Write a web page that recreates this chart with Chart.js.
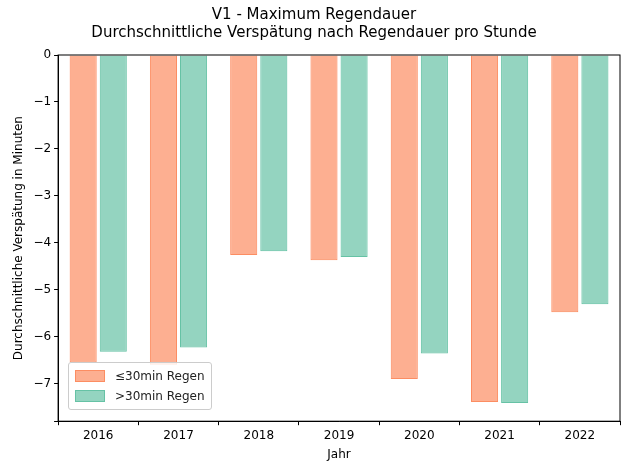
<!DOCTYPE html>
<html>
<head>
<meta charset="utf-8">
<script src="https://cdn.jsdelivr.net/npm/chart.js@4"></script>
<style>
  body { margin: 0; background: #fff; font-family: "DejaVu Sans", sans-serif; }
  #wrap { position: relative; width: 630px; height: 470px; }
  #legend { position: absolute; left: 68px; top: 362px; border: 1px solid #ccc; border-radius: 3px;
    background: rgba(255,255,255,0.8); padding: 3px 6px; font-size: 12px; color: #222; }
  #legend div { display: flex; align-items: center; height: 20px; }
  #legend span.sw { display: inline-block; width: 28px; height: 10px; margin-right: 10px; }
</style>
</head>
<body>
<div id="wrap">
  <canvas id="c" width="630" height="470"></canvas>
  <div id="legend">
    <div><span class="sw" style="background:rgba(252,141,98,0.7);border:1px solid #fc8d62"></span>≤30min Regen</div>
    <div><span class="sw" style="background:rgba(102,194,165,0.7);border:1px solid #66c2a5"></span>&gt;30min Regen</div>
  </div>
</div>
<script>
const years = ["2016", "2017", "2018", "2019", "2020", "2021", "2022"];
const shortRain = [-6.55, -6.6, -4.26, -4.37, -6.9, -7.39, -5.48];
const longRain = [-6.32, -6.23, -4.18, -4.3, -6.36, -7.41, -5.31];

Chart.defaults.font.family = "DejaVu Sans";
Chart.defaults.color = "#000";

// full box around the plot area, like matplotlib
const frame = {
  id: "frame",
  afterDraw(chart) {
    const { ctx, chartArea: a } = chart;
    ctx.save();
    ctx.strokeStyle = "#000";
    ctx.lineWidth = 1;
    ctx.strokeRect(a.left, a.top, a.right - a.left, a.bottom - a.top);
    ctx.restore();
  }
};

const tickGrid = { display: true, drawOnChartArea: false, drawTicks: true, tickLength: 4, color: "#000" };

new Chart(document.getElementById("c"), {
  type: "bar",
  data: {
    labels: years,
    datasets: [
      { label: "≤30min Regen", data: shortRain, backgroundColor: "rgba(252,141,98,0.7)", borderColor: "#fc8d62", borderWidth: 1 },
      { label: ">30min Regen", data: longRain, backgroundColor: "rgba(102,194,165,0.7)", borderColor: "#66c2a5", borderWidth: 1 }
    ]
  },
  options: {
    responsive: false,
    animation: false,
    layout: { padding: { left: 8, right: 10, top: 4, bottom: 6 } },
    datasets: { bar: { categoryPercentage: 0.75, barPercentage: 0.9 } },
    plugins: {
      legend: { display: false },
      title: {
        display: true,
        text: ["V1 - Maximum Regendauer", "Durchschnittliche Verspätung nach Regendauer pro Stunde"],
        font: { size: 15, weight: "normal" },
        padding: { top: 2, bottom: 13 },
        color: "#000"
      }
    },
    scales: {
      x: {
        grid: tickGrid,
        border: { color: "#000" },
        ticks: { font: { size: 12 } },
        title: { display: true, text: "Jahr", font: { size: 12 }, padding: 2 }
      },
      y: {
        min: -7.8, max: 0,
        grid: tickGrid,
        border: { color: "#000" },
        ticks: { stepSize: 1, font: { size: 12 }, callback: v => Number.isInteger(v) ? (v < 0 ? "\u2212" + (-v) : "0") : "" },
        title: { display: true, text: "Durchschnittliche Verspätung in Minuten", font: { size: 12 } }
      }
    }
  },
  plugins: [frame]
});
</script>
</body>
</html>
